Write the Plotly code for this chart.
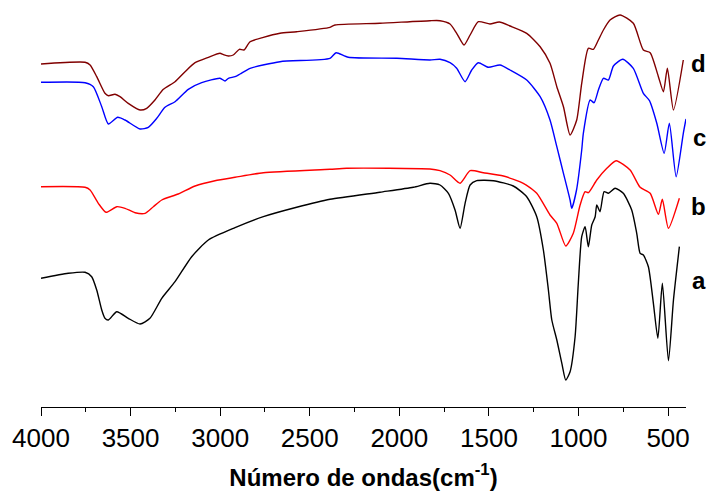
import plotly.graph_objects as go

# FTIR spectra, wavenumber (cm-1) vs. offset transmittance (arbitrary units)
wn_a = [4000, 3848, 3754, 3717, 3689, 3661, 3643, 3624, 3577, 3513, 3447, 3392, 3326, 3252,
        3159, 3066, 2917, 2759, 2573, 2387, 2108, 1922, 1829, 1773, 1726, 1689, 1661, 1633,
        1605, 1568, 1475, 1364, 1289, 1233, 1196, 1168, 1149, 1121, 1093, 1071, 1047, 1019,
        1001, 982, 963, 945, 926, 907, 898, 880, 857, 833, 796, 750, 703, 675, 656, 638,
        610, 582, 557, 532, 498, 470, 437]
t_a = [128.7, 133.7, 134.7, 130.3, 117, 97, 88.7, 87, 95.3, 88.7, 83, 88.7, 108.7, 125.3,
       150.3, 167, 179.3, 190.3, 199.7, 207.7, 214.8, 219.7, 223.7, 222, 213.7, 197, 178.7, 203.7,
       222, 226.3, 226.3, 221, 210.3, 190.3, 157, 117, 87, 67, 43.7, 27, 35.3, 70.3,
       123.7, 170.3, 180.3, 160.3, 182, 190.3, 202, 195.3, 215.3, 213.7, 218.7, 213.7, 197, 173.7, 153.7, 152,
       140.3, 103.7, 68.7, 123.7, 46.3, 107, 160.3]

wn_b = [4000, 3754, 3726, 3680, 3637, 3577, 3531, 3475, 3419, 3373, 3326, 3234, 3140, 3029,
        2917, 2759, 2387, 2294, 1829, 1773, 1717, 1661, 1605, 1531, 1419, 1308, 1233, 1159,
        1121, 1071, 1029, 991, 963, 945, 898, 842, 790, 712, 656, 600, 554, 532, 498, 437]
t_b = [220.3, 219.7, 217, 203.7, 194.7, 200.3, 198.7, 194.3, 193.7, 200.3, 207, 213, 221, 226.3,
       229.7, 234.3, 237.7, 238.7, 238, 236.3, 232, 223.7, 236.3, 234.3, 231, 223.7, 213.7, 192,
       183.7, 161, 173.7, 202, 215.3, 214.3, 227, 238.7, 246.3, 237, 219.7, 213.7, 192.7, 207.7, 178.7, 208.7]

wn_c = [4000, 3754, 3708, 3661, 3624, 3572, 3531, 3447, 3401, 3354, 3308, 3252, 3178, 3103,
        3001, 2973, 2954, 2917, 2889, 2833, 2666, 2387, 2353, 2285, 2014, 1829, 1773, 1717,
        1680, 1633, 1596, 1559, 1503, 1438, 1382, 1289, 1214, 1159, 1121, 1084, 1047, 1038,
        1011, 982, 973, 935, 913, 889, 861, 833, 805, 753, 694, 638, 604, 563, 522, 493,
        455, 415, 400]
t_c = [324.7, 324.3, 320.3, 300.3, 283, 289.7, 287, 278, 279.7, 288.7, 299.7, 305.3, 317.7, 324.3,
       328.7, 326, 328.7, 330.3, 333, 338.7, 345.3, 348.7, 354.3, 349.7, 348.7, 347, 347.7, 344.3,
       338.7, 325.3, 337, 344.3, 339.7, 342, 337, 327, 310.3, 287, 260.3, 233.7, 207, 198.7,
       217, 257, 273.7, 307, 304.3, 317, 328.7, 327, 341, 347.7, 338.7, 313.7, 306.3, 283.7, 253.7, 283.7,
       230.3, 273.7, 288]

wn_d = [4000, 3754, 3726, 3689, 3643, 3624, 3587, 3559, 3513, 3447, 3410, 3364, 3317, 3252,
        3196, 3140, 3066, 3001, 2982, 2954, 2927, 2893, 2867, 2833, 2759, 2666, 2573, 2387,
        2359, 2108, 1829, 1773, 1717, 1680, 1639, 1605, 1559, 1494, 1442, 1382, 1289, 1214,
        1159, 1121, 1084, 1047, 1010, 982, 945, 917, 889, 861, 824, 768, 694, 638, 600, 554,
        526, 504, 470, 415]
t_d = [343, 344.7, 342, 330.3, 313.7, 311.3, 312.7, 310.3, 303.7, 297, 298.7, 307, 317.7, 325.3,
       335.3, 344.3, 349.7, 353.7, 352.3, 351, 352, 357.7, 357, 365.3, 369.7, 373.7, 375.3, 379.7,
       382, 383.7, 386.3, 386.3, 383, 373.7, 362, 372, 385.3, 383, 385, 381, 373.7, 360.3,
       343.7, 320.3, 300.3, 272, 287, 323.7, 358.7, 357.7, 367, 377, 387, 392, 383.7, 357, 354.3, 330.3,
       315.3, 338.7, 297, 347]

series = [
    ("a", wn_a, t_a, "#000000"),
    ("b", wn_b, t_b, "#FF0000"),
    ("c", wn_c, t_c, "#0000FF"),
    ("d", wn_d, t_d, "#800000"),
]
label_pos = {"a": 127, "b": 201, "c": 270, "d": 344}

fig = go.Figure()
for name, x, y, color in series:
    fig.add_trace(go.Scatter(
        x=x, y=y, mode="lines", name=name,
        line=dict(color=color, width=1.4, shape="spline", smoothing=0.6),
        showlegend=False,
    ))
    fig.add_annotation(
        x=1.034, xref="paper", y=label_pos[name], yref="y",
        text="<b>%s</b>" % name, showarrow=False,
        font=dict(family="Liberation Sans, Arial", size=24, color="black"),
    )

fig.update_xaxes(
    range=[4000, 400],
    tickmode="linear", tick0=500, dtick=500,
    ticks="outside", ticklen=8, tickwidth=1, tickcolor="black",
    minor=dict(ticks="outside", ticklen=4, dtick=250, tick0=500, tickcolor="black"),
    showline=True, linecolor="black", linewidth=1,
    showgrid=False, zeroline=False,
    tickfont=dict(family="Liberation Sans, Arial", size=26, color="black"),
    title=dict(
        text="<b>Número de ondas(cm<sup>-1</sup>)</b>",
        font=dict(family="Liberation Sans, Arial", size=24, color="black"),
        standoff=16,
    ),
)
fig.update_yaxes(range=[0, 399], visible=False)

# page body has an 8px margin, so the margins here are shifted to compensate
fig.update_layout(
    width=718, height=498,
    margin=dict(l=33, r=40, t=0, b=99),
    plot_bgcolor="white", paper_bgcolor="white",
)

fig.write_html("out.html")
